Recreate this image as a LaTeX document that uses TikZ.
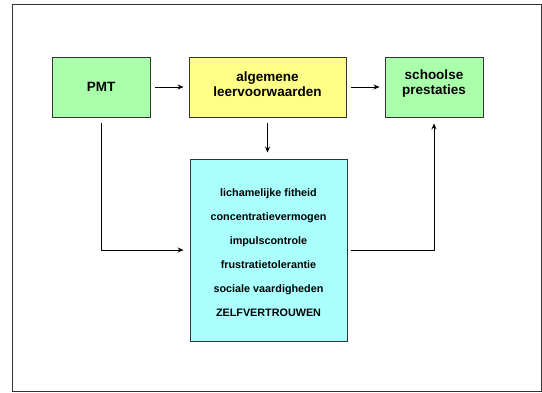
\documentclass[tikz,border=0pt]{standalone}
\usepackage{fontspec}
\setmainfont{Liberation Sans}
\usetikzlibrary{arrows.meta}
\definecolor{boxgreen}{HTML}{AAFFAA}
\definecolor{boxyellow}{HTML}{FFFF88}
\definecolor{boxcyan}{HTML}{AAFFFF}
\definecolor{edge}{HTML}{333333}
\tikzset{
  box/.style={draw=edge, line width=0.9pt, align=center, inner sep=0pt},
  headtext/.style={font=\bfseries\fontsize{13.5}{15}\selectfont},
  arr/.style={-{Stealth[length=6pt,width=5pt]}, line width=0.8pt, black},
}
\begin{document}
\begin{tikzpicture}[x=1pt,y=-1pt]
\useasboundingbox (0,0) rectangle (542,392);
\draw[edge, line width=1pt] (12,4.5) rectangle (541,391);
\node[box, headtext, fill=boxgreen, minimum width=98pt, minimum height=60pt] (pmt) at (101,87) {PMT};
\node[box, fill=boxyellow, minimum width=157pt, minimum height=60pt] (alg) at (267.5,87) {};
\node[headtext, align=center] (algt) at (267.5,84) {algemene\\leervoorwaarden};
\node[box, fill=boxgreen, minimum width=98pt, minimum height=60pt] (school) at (434,87) {};
\node[headtext, align=center] (schoolt) at (434,84) {schoolse\\prestaties};
\node[box, fill=boxcyan, minimum width=157pt, minimum height=182pt] (cyan) at (268.5,250) {};
\node[align=center, font=\bfseries\fontsize{10.8}{24}\selectfont] (cyant) at (268.5,253)
  {lichamelijke fitheid\\concentratievermogen\\impulscontrole\\frustratietolerantie\\sociale vaardigheden\\ZELFVERTROUWEN};
\draw[arr, shorten <=5pt, shorten >=5pt] (pmt.east) -- (alg.west);
\draw[arr, shorten <=5pt, shorten >=5pt] (alg.east) -- (school.west);
\draw[arr, shorten <=6pt, shorten >=6pt] (alg.south) -- (alg.south |- cyan.north);
\draw[arr, shorten <=6pt, shorten >=6pt] (pmt.south) |- (cyan.west);
\draw[arr, shorten <=4pt, shorten >=6pt] (cyan.east) -| (school.south);
\end{tikzpicture}
\end{document}
